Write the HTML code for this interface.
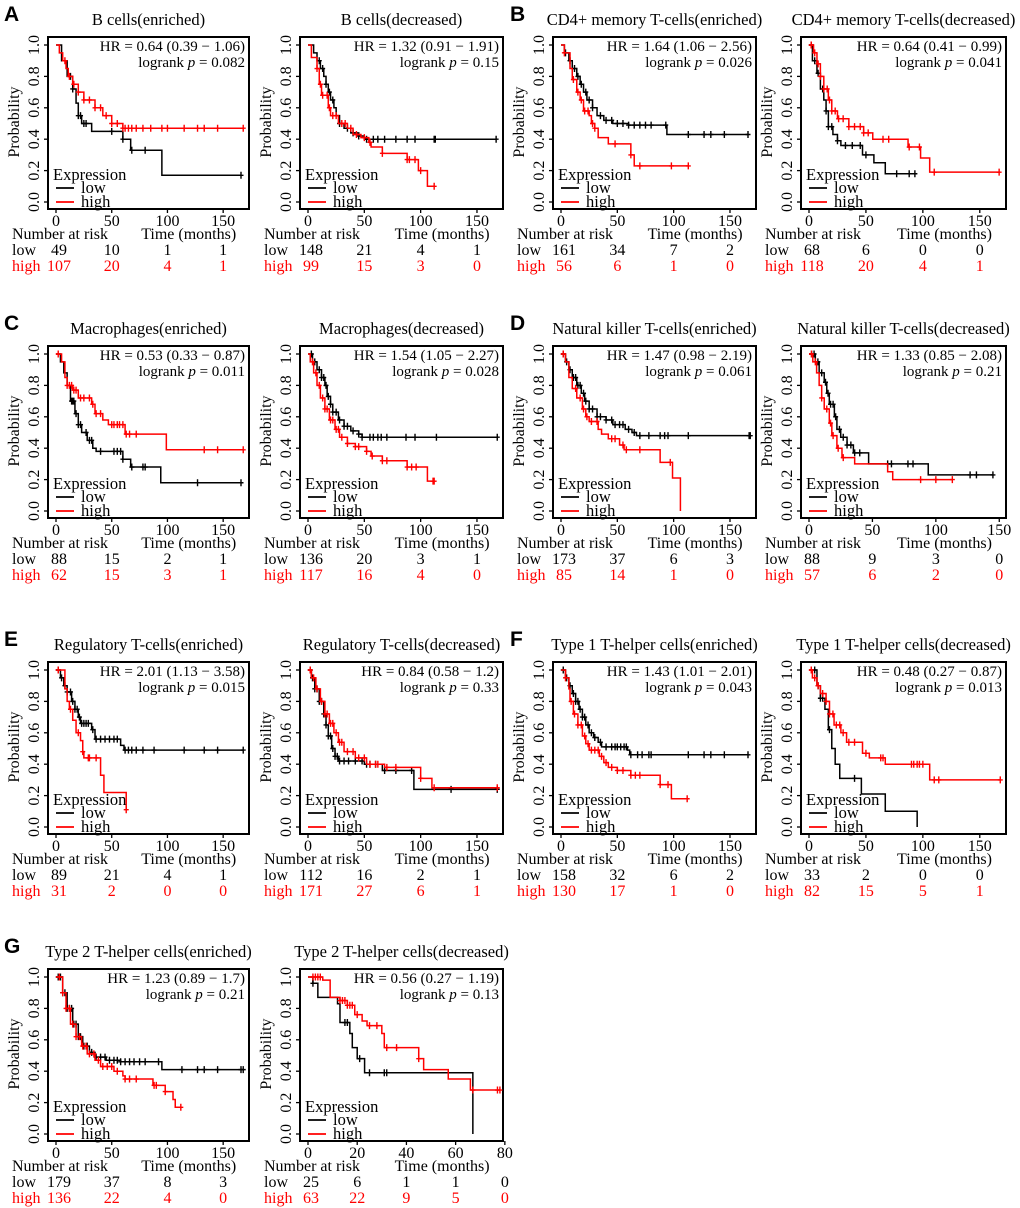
<!DOCTYPE html>
<html><head><meta charset="utf-8">
<style>
html,body{margin:0;padding:0;background:#fff;}
svg{display:block;font-family:"Liberation Serif",serif;}
.lt{font-family:"Liberation Sans",sans-serif;font-weight:bold;font-size:21px;}
</style></head>
<body>
<svg id="fig" width="1020" height="1208" viewBox="0 0 1020 1208" xmlns="http://www.w3.org/2000/svg"></svg>
<script>
const p1LowT=[0,5,10,15,18,20,23,32,60,67,95];
const p1LowS=[1,0.9,0.8,0.72,0.63,0.55,0.5,0.45,0.4,0.33,0.17];
const p1LowC=[13,15,20,22,25,27,50,60,68,80,166];
const p1HighT=[0,3,6,9,11,15,20,25,35,42,50,60];
const p1HighS=[1,0.95,0.9,0.85,0.8,0.75,0.7,0.65,0.6,0.55,0.5,0.47];
const p1HighC=[8,12,16,20,25,30,35,40,45,50,55,60,62,65,68,72,78,85,95,100,115,127,133,145,168];

const p2LowT=[0,5,8,11,14,16,18,20,23,25,28,32,38,45,50];
const p2LowS=[1,0.95,0.9,0.85,0.8,0.75,0.7,0.65,0.6,0.55,0.5,0.47,0.44,0.42,0.4];
const p2LowC=[10,13,16,19,22,28,35,40,45,52,58,62,68,78,88,95,112,113,167];
const p2HighT=[0,3,8,10,12,18,20,27,35,40,47,54,56,66,88,98,106];
const p2HighS=[1,0.92,0.85,0.75,0.68,0.6,0.55,0.5,0.47,0.43,0.41,0.38,0.35,0.31,0.27,0.2,0.1];
const p2HighC=[8,11,13,17,19,22,25,30,33,38,43,50,55,66,88,90,95,100,112];

const p3LowT=[0,3,7,10,14,17,20,23,28,32,38,46,60,94];
const p3LowS=[1,0.95,0.9,0.85,0.8,0.75,0.7,0.65,0.6,0.55,0.52,0.5,0.49,0.43];
const p3LowC=[4,8,12,15,18,22,25,28,35,40,45,50,55,60,65,70,75,80,93,113,127,133,145,166];
const p3HighT=[0,3,8,10,14,17,20,25,27,30,33,42,62,65];
const p3HighS=[1,0.95,0.85,0.78,0.7,0.65,0.58,0.55,0.5,0.47,0.41,0.37,0.3,0.23];
const p3HighC=[3,11,15,18,21,24,28,30,48,62,70,98,113];

const p4LowT=[0,3,7,10,13,15,17,21,25,28,47,57,67];
const p4LowS=[1,0.9,0.82,0.72,0.65,0.58,0.48,0.43,0.39,0.36,0.3,0.25,0.18];
const p4LowC=[2,5,8,12,15,17,20,25,32,38,45,50,77,88,93];
const p4HighT=[0,4,7,10,13,17,20,25,35,48,56,87,98,106];
const p4HighS=[1,0.95,0.88,0.8,0.72,0.65,0.58,0.53,0.48,0.44,0.4,0.35,0.28,0.19];
const p4HighC=[2,5,8,10,13,16,18,20,23,26,30,35,40,45,48,52,65,70,88,97,110,167];

const p5LowT=[0,4,7,10,13,17,20,23,28,33,36,60,67,94];
const p5LowS=[1,0.95,0.88,0.8,0.7,0.62,0.55,0.5,0.45,0.4,0.38,0.33,0.28,0.18];
const p5LowC=[14,15,16,18,20,22,27,30,32,40,52,55,58,60,68,78,80,127,166];
const p5HighT=[0,5,8,10,15,20,32,35,42,47,62,99];
const p5HighS=[1,0.95,0.85,0.8,0.77,0.72,0.68,0.62,0.58,0.55,0.49,0.39];
const p5HighC=[2,10,12,14,16,18,22,25,30,33,36,40,50,52,55,57,60,63,66,72,133,145,168];

const p6LowT=[0,4,8,12,15,17,20,22,27,32,38,45,48];
const p6LowS=[1,0.95,0.9,0.85,0.8,0.73,0.68,0.63,0.58,0.54,0.51,0.49,0.47];
const p6LowC=[3,6,10,12,14,16,18,20,22,25,28,32,35,40,45,48,55,58,62,65,70,87,95,114,168];
const p6HighT=[0,2,5,8,11,15,19,24,28,35,42,52,56,66,88,106];
const p6HighS=[1,0.95,0.88,0.8,0.72,0.65,0.58,0.52,0.47,0.43,0.41,0.38,0.35,0.32,0.28,0.19];
const p6HighC=[4,7,10,13,15,17,20,22,25,27,30,35,42,45,52,57,66,70,88,92,96,111,112];

const p7LowT=[0,4,7,10,14,18,21,25,32,40,46,57,63,67];
const p7LowS=[1,0.95,0.9,0.85,0.8,0.75,0.7,0.65,0.6,0.58,0.55,0.52,0.5,0.48];
const p7LowC=[2,5,8,11,13,15,17,20,22,25,28,32,35,40,45,48,52,55,60,65,70,78,88,92,95,113,167,168];
const p7HighT=[0,4,7,10,14,19,22,25,33,36,42,52,56,88,99,106];
const p7HighS=[1,0.95,0.85,0.78,0.72,0.65,0.6,0.57,0.52,0.49,0.46,0.42,0.39,0.31,0.21,0];
const p7HighC=[2,13,17,20,23,27,32,45,48,55,58,70,97];

const p8LowT=[0,5,8,12,14,16,20,22,25,30,35,47,94];
const p8LowS=[1,0.95,0.88,0.82,0.75,0.68,0.6,0.52,0.47,0.42,0.37,0.3,0.23];
const p8LowC=[2,4,7,10,13,15,17,19,21,24,27,30,33,36,40,62,65,78,82,127,132,145];
const p8HighT=[0,3,6,8,10,12,16,18,22,26,36,62,66];
const p8HighS=[1,0.95,0.88,0.8,0.72,0.65,0.56,0.48,0.4,0.34,0.3,0.25,0.2];
const p8HighC=[2,5,10,14,17,19,23,27,88,100,113];

const p9LowT=[0,4,7,10,14,17,20,22,32,35,58,61];
const p9LowS=[1,0.95,0.9,0.86,0.8,0.75,0.7,0.66,0.62,0.56,0.52,0.49];
const p9LowC=[2,5,8,10,13,15,17,19,21,23,25,27,29,33,36,40,44,48,52,55,62,65,68,72,78,88,115,133,145,168];
const p9HighT=[0,8,10,12,15,18,22,24,25,40,43,63];
const p9HighS=[1,0.88,0.8,0.75,0.68,0.6,0.55,0.48,0.44,0.33,0.22,0.11];
const p9HighC=[2,13,20,24,29,30,36,63];

const p10LowT=[0,3,6,10,14,16,18,21,24,27,50,66,94];
const p10LowS=[1,0.95,0.88,0.8,0.72,0.65,0.58,0.5,0.45,0.42,0.4,0.36,0.24];
const p10LowC=[2,4,6,8,10,12,14,16,18,20,22,24,26,28,32,36,42,48,52,55,60,68,78,92,127,168];
const p10HighT=[0,3,7,11,15,19,23,27,32,42,52,68,100,110];
const p10HighS=[1,0.95,0.88,0.8,0.72,0.66,0.6,0.54,0.48,0.44,0.4,0.38,0.31,0.25];
const p10HighC=[2,5,8,12,15,17,20,22,25,28,30,35,40,45,50,55,60,62,70,78,100,112,168];

const p11LowT=[0,4,7,10,13,16,19,22,25,29,33,36,59,61];
const p11LowS=[1,0.95,0.9,0.85,0.8,0.75,0.7,0.65,0.6,0.57,0.54,0.51,0.49,0.46];
const p11LowC=[2,5,8,11,13,15,17,19,21,24,27,30,35,40,45,48,50,53,56,58,62,68,72,78,80,113,127,133,145,166];
const p11HighT=[0,4,7,8,11,15,19,22,25,34,38,42,50,62,88,98];
const p11HighS=[1,0.95,0.88,0.8,0.72,0.65,0.58,0.53,0.49,0.45,0.41,0.38,0.36,0.33,0.27,0.18];
const p11HighC=[4,9,12,15,18,21,24,27,30,33,36,40,45,50,55,62,66,70,88,95,112];

const p12LowT=[0,7,10,14,17,20,23,27,46,67,95];
const p12LowS=[1,0.9,0.82,0.75,0.62,0.5,0.4,0.31,0.21,0.1,0];
const p12LowC=[5,8,10,12,18,40];
const p12HighT=[0,3,7,10,15,18,22,28,33,47,53,67,106];
const p12HighS=[1,0.95,0.9,0.85,0.8,0.72,0.65,0.6,0.54,0.47,0.44,0.4,0.3];
const p12HighC=[2,5,8,12,15,18,21,24,27,30,35,40,50,63,65,90,92,95,97,100,110,114,168];

const p13LowT=[0,6,10,15,20,24,30,35,45,58,95];
const p13LowS=[1,0.9,0.8,0.7,0.62,0.56,0.52,0.49,0.47,0.46,0.41];
const p13LowC=[2,4,6,8,10,12,14,16,18,20,22,25,28,32,36,40,44,48,52,55,58,62,66,70,75,80,92,113,127,133,145,166,168];
const p13HighT=[0,6,9,13,18,23,28,35,40,52,60,62,87,98,105,107];
const p13HighS=[1,0.9,0.8,0.7,0.62,0.56,0.51,0.47,0.43,0.4,0.37,0.35,0.31,0.27,0.22,0.17];
const p13HighC=[3,6,9,12,15,18,21,24,27,30,34,38,42,46,50,55,62,66,72,88,90,98,112];

const p14LowT=[0,2,4,12,13,17,18,20,23,67];
const p14LowS=[1,0.96,0.87,0.83,0.71,0.64,0.55,0.48,0.39,0];
const p14LowC=[2,15,16,21,25,31,32];
const p14HighT=[0,6,9,13,16,19,22,24,30,31,45,47,57,66];
const p14HighS=[1,0.98,0.87,0.85,0.82,0.76,0.72,0.69,0.64,0.55,0.48,0.41,0.35,0.28];
const p14HighC=[2,3,4,5,13,14,15,16,17,18,20,25,28,32,36,45,67,77,78];

const p1RiskLow=[49,10,1,1], p1RiskHigh=[107,20,4,1];
const p2RiskLow=[148,21,4,1], p2RiskHigh=[99,15,3,0];
const p3RiskLow=[161,34,7,2], p3RiskHigh=[56,6,1,0];
const p4RiskLow=[68,6,0,0], p4RiskHigh=[118,20,4,1];
const p5RiskLow=[88,15,2,1], p5RiskHigh=[62,15,3,1];
const p6RiskLow=[136,20,3,1], p6RiskHigh=[117,16,4,0];
const p7RiskLow=[173,37,6,3], p7RiskHigh=[85,14,1,0];
const p8RiskLow=[88,9,3,0], p8RiskHigh=[57,6,2,0];
const p9RiskLow=[89,21,4,1], p9RiskHigh=[31,2,0,0];
const p10RiskLow=[112,16,2,1], p10RiskHigh=[171,27,6,1];
const p11RiskLow=[158,32,6,2], p11RiskHigh=[130,17,1,0];
const p12RiskLow=[33,2,0,0], p12RiskHigh=[82,15,5,1];
const p13RiskLow=[179,37,8,3], p13RiskHigh=[136,22,4,0];
const p14RiskLow=[25,6,1,1,0], p14RiskHigh=[63,22,9,5,0];

const titles=["B cells(enriched)","B cells(decreased)","CD4+ memory T-cells(enriched)","CD4+ memory T-cells(decreased)",
"Macrophages(enriched)","Macrophages(decreased)","Natural killer T-cells(enriched)","Natural killer T-cells(decreased)",
"Regulatory T-cells(enriched)","Regulatory T-cells(decreased)","Type 1 T-helper cells(enriched)","Type 1 T-helper cells(decreased)",
"Type 2 T-helper cells(enriched)","Type 2 T-helper cells(decreased)"];
const hrText=["HR = 0.64 (0.39 − 1.06)","HR = 1.32 (0.91 − 1.91)","HR = 1.64 (1.06 − 2.56)","HR = 0.64 (0.41 − 0.99)",
"HR = 0.53 (0.33 − 0.87)","HR = 1.54 (1.05 − 2.27)","HR = 1.47 (0.98 − 2.19)","HR = 1.33 (0.85 − 2.08)",
"HR = 2.01 (1.13 − 3.58)","HR = 0.84 (0.58 − 1.2)","HR = 1.43 (1.01 − 2.01)","HR = 0.48 (0.27 − 0.87)",
"HR = 1.23 (0.89 − 1.7)","HR = 0.56 (0.27 − 1.19)"];
const pVals=["0.082","0.15","0.026","0.041","0.011","0.028","0.061","0.21","0.015","0.33","0.043","0.013","0.21","0.13"];
const xTicksStd=[0,50,100,150];
const xTicksShort=[0,20,40,60,80];
const letters=["A","B","C","D","E","F","G"];

const curves=[
 [p1LowT,p1LowS,p1LowC,p1HighT,p1HighS,p1HighC,p1RiskLow,p1RiskHigh],
 [p2LowT,p2LowS,p2LowC,p2HighT,p2HighS,p2HighC,p2RiskLow,p2RiskHigh],
 [p3LowT,p3LowS,p3LowC,p3HighT,p3HighS,p3HighC,p3RiskLow,p3RiskHigh],
 [p4LowT,p4LowS,p4LowC,p4HighT,p4HighS,p4HighC,p4RiskLow,p4RiskHigh],
 [p5LowT,p5LowS,p5LowC,p5HighT,p5HighS,p5HighC,p5RiskLow,p5RiskHigh],
 [p6LowT,p6LowS,p6LowC,p6HighT,p6HighS,p6HighC,p6RiskLow,p6RiskHigh],
 [p7LowT,p7LowS,p7LowC,p7HighT,p7HighS,p7HighC,p7RiskLow,p7RiskHigh],
 [p8LowT,p8LowS,p8LowC,p8HighT,p8HighS,p8HighC,p8RiskLow,p8RiskHigh],
 [p9LowT,p9LowS,p9LowC,p9HighT,p9HighS,p9HighC,p9RiskLow,p9RiskHigh],
 [p10LowT,p10LowS,p10LowC,p10HighT,p10HighS,p10HighC,p10RiskLow,p10RiskHigh],
 [p11LowT,p11LowS,p11LowC,p11HighT,p11HighS,p11HighC,p11RiskLow,p11RiskHigh],
 [p12LowT,p12LowS,p12LowC,p12HighT,p12HighS,p12HighC,p12RiskLow,p12RiskHigh],
 [p13LowT,p13LowS,p13LowC,p13HighT,p13HighS,p13HighC,p13RiskLow,p13RiskHigh],
 [p14LowT,p14LowS,p14LowC,p14HighT,p14HighS,p14HighC,p14RiskLow,p14RiskHigh]
];

const NS="http://www.w3.org/2000/svg";
const svg=document.getElementById('fig');
const rowTop=[0,309,625,932];
const colLeft=[48,300,553,801];
const colW=[201,203,203,205];
const RED='#ff0000';
const FS=16;
function mk(tag,attrs,parent,text){
  const e=document.createElementNS(NS,tag);
  for(const k in attrs)e.setAttribute(k,attrs[k]);
  if(text!==undefined)e.textContent=text;
  (parent||svg).appendChild(e);return e;
}
function survAt(T,S,t){let v=S[0];for(let i=0;i<T.length;i++){if(T[i]<=t)v=S[i];}return v;}

for(let r=0;r<4;r++){
  const lt=mk('text',{x:4,y:rowTop[r]+21,class:'lt'},svg,letters[r*2]);
  
  
  if(r<3){
    const lt2=mk('text',{x:510,y:rowTop[r]+21,class:'lt'},svg,letters[r*2+1]);
    
    
  }
}

curves.forEach((cv,i)=>{
  const r=Math.floor(i/4), c=i%4;
  const T=rowTop[r], L=colLeft[c], W=colW[c];
  const short=(i===13), nk=(i===7);
  const xmax=short?76:(nk?149:166);
  const ticks=short?xTicksShort:xTicksStd;
  const x0=L+8, sx=(W-16)/xmax;
  const X=t=>x0+t*sx;
  const y1=T+45, y0=T+202;
  const Y=s=>y0-(y0-y1)*s;
  const g=mk('g',{});
  
  
  const tt=mk('text',{x:L+W/2,y:T+25,'text-anchor':'middle','font-size':16.5},g,titles[i]);
  
  
  const box=mk('rect',{x:L,y:T+37,width:W,height:172,fill:'none',stroke:'#000','stroke-width':2},g);
  
  
  [0,0.2,0.4,0.6,0.8,1.0].forEach(v=>{
    mk('line',{x1:L-4,x2:L,y1:Y(v),y2:Y(v),stroke:'#000','stroke-width':1.3},g);
    const yl=mk('text',{x:L-9,y:Y(v),'font-size':FS,'text-anchor':'middle',transform:`rotate(-90 ${L-9} ${Y(v)})`},g,v.toFixed(1));
    
    
  });
  const yt=mk('text',{x:L-29,y:T+122,'font-size':FS,'text-anchor':'middle',transform:`rotate(-90 ${L-29} ${T+122})`},g,'Probability');
  
  
  ticks.forEach(v=>{
    mk('line',{x1:X(v),x2:X(v),y1:T+209,y2:T+213,stroke:'#000','stroke-width':1.3},g);
    const xl=mk('text',{x:X(v),y:T+226,'font-size':FS,'text-anchor':'middle'},g,String(v));
    
    
  });
  const hr=mk('text',{x:L+W-4,y:T+51,'font-size':15,'text-anchor':'end'},g,hrText[i]);
  
  
  const lp=mk('text',{x:L+W-4,y:T+67,'font-size':15,'text-anchor':'end'},g);
  
  
  lp.innerHTML='logrank <tspan font-style="italic">p</tspan> = '+pVals[i];
  [[cv[0],cv[1],cv[2],'#000','low'],[cv[3],cv[4],cv[5],RED,'high']].forEach(([tt2,ss,cc,col,nm])=>{
    const end=Math.max(tt2[tt2.length-1],cc.length?cc[cc.length-1]:0);
    let d=`M${X(tt2[0])},${Y(ss[0])}`;
    for(let k=1;k<tt2.length;k++){d+=`H${X(tt2[k])}V${Y(ss[k])}`;}
    d+=`H${X(end)}`;
    const p=mk('path',{d:d,fill:'none',stroke:col,'stroke-width':1.5},g);
    
    
    cc.forEach(t=>{
      const cx=X(t), cy=Y(survAt(tt2,ss,t));
      const m=mk('path',{d:`M${cx-2.5},${cy}H${cx+2.5}M${cx},${cy-3.5}V${cy+3.5}`,stroke:col,'stroke-width':1.4},g);
      
      
    });
  });
  const lg=mk('g',{},g);
  
  
  mk('text',{x:L+5,y:T+180,'font-size':16.5},lg,'Expression');
  mk('line',{x1:L+8,x2:L+26,y1:T+188,y2:T+188,stroke:'#000','stroke-width':1.8},lg);
  mk('text',{x:L+33,y:T+193,'font-size':16.5},lg,'low');
  mk('line',{x1:L+8,x2:L+26,y1:T+202,y2:T+202,stroke:RED,'stroke-width':1.8},lg);
  mk('text',{x:L+33,y:T+207,'font-size':16.5,fill:'#000'},lg,'high');
  const rt=mk('g',{},g);
  
  
  mk('text',{x:L-36,y:T+239,'font-size':FS},rt,'Number at risk');
  mk('text',{x:L+W*0.7,y:T+239,'font-size':FS,'text-anchor':'middle'},rt,'Time (months)');
  mk('text',{x:L-36,y:T+255,'font-size':FS},rt,'low');
  mk('text',{x:L-36,y:T+271,'font-size':FS,fill:RED},rt,'high');
  cv[6].forEach((n,k)=>{mk('text',{x:X(ticks[k])+(k===0?3:0),y:T+255,'font-size':FS,'text-anchor':'middle'},rt,String(n));});
  cv[7].forEach((n,k)=>{mk('text',{x:X(ticks[k])+(k===0?3:0),y:T+271,'font-size':FS,'text-anchor':'middle',fill:RED},rt,String(n));});
});
</script>
</body></html>
